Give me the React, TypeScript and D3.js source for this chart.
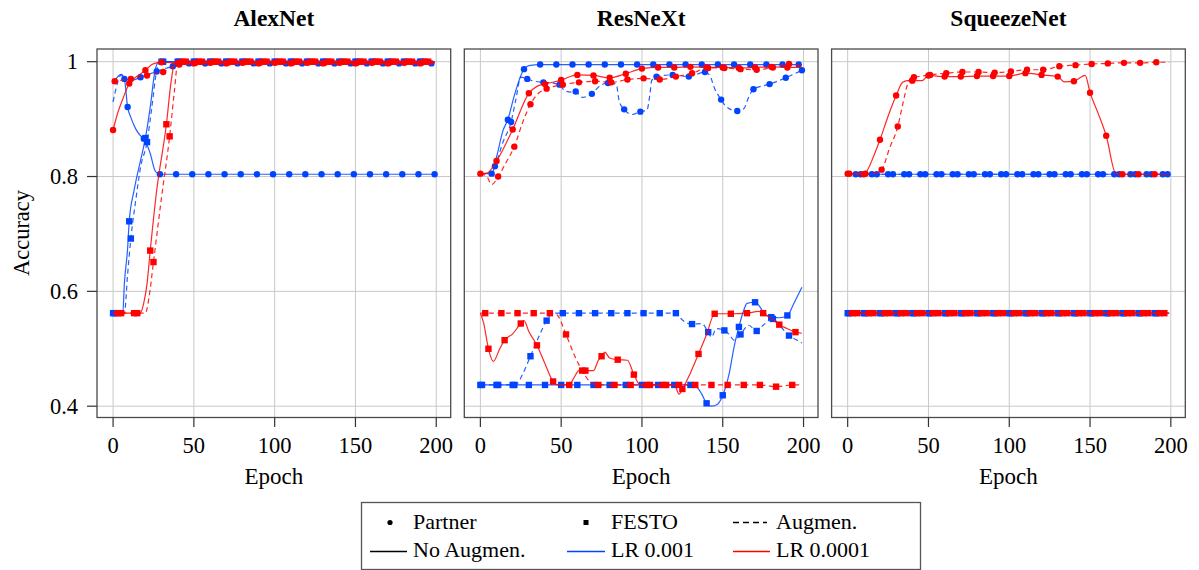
import React from "react";
import * as d3 from "d3";

type Pt = [number, number];

const MODELS = ["AlexNet", "ResNeXt", "SqueezeNet"];
const EPOCH_TICKS = [0, 50, 100, 150, 200];
const ACC_TICKS = [0.4, 0.6, 0.8, 1];
const ACC_TICK_LABELS = ["0.4", "0.6", "0.8", "1"];

// ---- AlexNet ----
const alexPartnerLr3: Pt[] = [[0,0.962],[5,0.978],[7,0.970],[9,0.921],[11,0.903],[14,0.883],[17,0.871],[19,0.866],[23,0.840],[26,0.810],[28,0.805],[29,0.804],[39,0.804],[49,0.804],[59,0.804],[69,0.804],[79,0.804],[89,0.804],[99,0.804],[109,0.804],[119,0.804],[129,0.804],[139,0.804],[149,0.804],[159,0.804],[169,0.804],[179,0.804],[189,0.804],[199,0.804]];
const alexPartnerLr3Aug: Pt[] = [[0,0.930],[2,0.955],[5,0.977],[7,0.970],[12,0.968],[17,0.973],[22,0.978],[27,0.983],[32,0.988],[37,0.992],[42,0.995],[47,0.997],[57,0.997],[67,0.997],[77,0.997],[87,0.997],[97,0.997],[107,0.997],[117,0.997],[127,0.997],[137,0.997],[147,0.997],[157,0.997],[167,0.997],[177,0.997],[187,0.997],[197,0.997],[199,0.997]];
const alexPartnerLr4: Pt[] = [[0,0.881],[3,0.912],[6,0.935],[10,0.962],[15,0.975],[20,0.985],[24,0.995],[27,0.998],[30,0.999],[40,0.998],[50,0.997],[60,0.998],[70,0.997],[80,0.998],[90,0.997],[100,0.998],[110,0.997],[120,0.998],[130,0.997],[140,0.998],[150,0.997],[160,0.998],[170,0.997],[180,0.998],[190,0.997],[199,0.998]];
const alexPartnerLr4Aug: Pt[] = [[0,0.962],[1,0.966],[6,0.968],[11,0.970],[16,0.973],[21,0.976],[26,0.979],[31,0.982],[36,0.990],[41,0.995],[51,0.998],[61,0.999],[71,0.998],[81,0.999],[91,0.998],[101,0.999],[111,0.998],[121,0.999],[131,0.998],[141,0.999],[151,0.998],[161,0.999],[171,0.998],[181,0.999],[191,0.998],[199,0.999]];
const alexFestoLr3: Pt[] = [[0,0.562],[6,0.562],[7,0.614],[9,0.675],[10,0.722],[13,0.776],[17,0.828],[20,0.867],[23,0.921],[26,0.985],[28,0.999],[30,1.0],[40,1.0],[50,1.0],[60,1.0],[70,1.0],[80,1.0],[90,1.0],[100,1.0],[110,1.0],[120,1.0],[130,1.0],[140,1.0],[150,1.0],[160,1.0],[170,1.0],[180,1.0],[190,1.0],[199,1.0]];
const alexFestoLr3Aug: Pt[] = [[0,0.562],[1,0.562],[7,0.562],[9,0.630],[11,0.692],[14,0.758],[17,0.816],[21,0.860],[24,0.921],[27,0.985],[29,1.0],[31,1.0],[41,1.0],[51,1.0],[61,1.0],[71,1.0],[81,1.0],[91,1.0],[101,1.0],[111,1.0],[121,1.0],[131,1.0],[141,1.0],[151,1.0],[161,1.0],[171,1.0],[181,1.0],[191,1.0],[199,1.0]];
const alexFestoLr4: Pt[] = [[0,0.562],[3,0.562],[13,0.562],[17,0.563],[19,0.580],[21,0.613],[23,0.671],[27,0.776],[33,0.891],[36,0.967],[38,0.997],[43,1.0],[53,1.0],[63,1.0],[73,1.0],[83,1.0],[93,1.0],[103,1.0],[113,1.0],[123,1.0],[133,1.0],[143,1.0],[153,1.0],[163,1.0],[173,1.0],[183,1.0],[193,1.0],[199,1.0]];
const alexFestoLr4Aug: Pt[] = [[0,0.562],[5,0.562],[15,0.562],[20,0.562],[22,0.585],[25,0.651],[30,0.764],[35,0.870],[38,0.950],[40,0.998],[45,1.0],[55,1.0],[65,1.0],[75,1.0],[85,1.0],[95,1.0],[105,1.0],[115,1.0],[125,1.0],[135,1.0],[145,1.0],[155,1.0],[165,1.0],[175,1.0],[185,1.0],[195,1.0],[199,1.0]];

// ---- ResNeXt ----
const resPartnerLr3: Pt[] = [[0,0.805],[7,0.805],[10,0.834],[14,0.880],[17,0.899],[21,0.941],[27,0.987],[30,0.993],[37,0.995],[47,0.995],[57,0.995],[67,0.995],[77,0.995],[87,0.995],[97,0.995],[107,0.995],[117,0.995],[127,0.995],[137,0.995],[147,0.995],[157,0.995],[167,0.995],[177,0.995],[187,0.995],[197,0.995],[199,0.995]];
const resPartnerLr3Aug: Pt[] = [[0,0.805],[6,0.805],[9,0.818],[14,0.860],[19,0.895],[22,0.935],[25,0.973],[29,0.970],[32,0.967],[39,0.964],[44,0.963],[49,0.960],[52,0.950],[56,0.947],[59,0.948],[63,0.938],[69,0.944],[74,0.958],[79,0.963],[84,0.961],[86,0.930],[89,0.917],[94,0.908],[99,0.913],[103,0.915],[105,0.945],[106,0.967],[109,0.974],[119,0.977],[129,0.974],[139,0.982],[142,0.976],[145,0.953],[149,0.934],[152,0.922],[159,0.914],[163,0.918],[166,0.938],[169,0.952],[179,0.961],[189,0.972],[199,0.985]];
const resPartnerLr4: Pt[] = [[0,0.805],[4,0.806],[10,0.827],[20,0.882],[30,0.945],[35,0.957],[40,0.961],[50,0.968],[60,0.977],[70,0.976],[80,0.972],[90,0.979],[100,0.988],[110,0.990],[120,0.990],[130,0.991],[140,0.990],[150,0.990],[160,0.989],[170,0.990],[180,0.991],[190,0.990],[199,0.990]];
const resPartnerLr4Aug: Pt[] = [[0,0.805],[4,0.800],[7,0.786],[11,0.800],[16,0.825],[21,0.852],[26,0.893],[31,0.926],[36,0.945],[41,0.953],[51,0.960],[61,0.964],[71,0.966],[81,0.964],[91,0.969],[101,0.971],[111,0.969],[121,0.974],[131,0.980],[141,0.989],[151,0.989],[161,0.987],[171,0.986],[181,0.990],[191,0.996],[199,0.992]];
const resFestoLr3: Pt[] = [[0,0.437],[10,0.437],[20,0.437],[30,0.437],[40,0.437],[50,0.437],[60,0.437],[70,0.437],[80,0.437],[90,0.437],[100,0.437],[110,0.437],[120,0.437],[130,0.437],[134,0.433],[137,0.421],[140,0.405],[143,0.400],[147,0.404],[150,0.419],[154,0.457],[157,0.503],[160,0.538],[163,0.567],[165,0.579],[170,0.581],[173,0.573],[175,0.564],[180,0.555],[185,0.554],[190,0.558],[194,0.579],[199,0.607]];
const resFestoLr3Aug: Pt[] = [[0,0.437],[1,0.437],[11,0.437],[21,0.437],[23,0.440],[26,0.455],[31,0.487],[36,0.520],[41,0.549],[45,0.562],[51,0.562],[61,0.562],[71,0.562],[81,0.562],[91,0.562],[101,0.562],[111,0.562],[121,0.562],[125,0.550],[131,0.543],[137,0.544],[141,0.529],[143,0.520],[146,0.535],[151,0.532],[154,0.525],[157,0.515],[161,0.525],[166,0.541],[171,0.531],[175,0.541],[181,0.552],[186,0.538],[191,0.523],[196,0.515],[199,0.510]];
const resFestoLr4: Pt[] = [[0,0.562],[2,0.545],[5,0.500],[8,0.478],[12,0.500],[15,0.515],[20,0.526],[25,0.544],[27,0.549],[30,0.530],[35,0.506],[40,0.474],[45,0.443],[48,0.437],[55,0.437],[58,0.450],[61,0.462],[65,0.462],[70,0.462],[73,0.480],[75,0.487],[77,0.494],[80,0.484],[85,0.481],[91,0.480],[95,0.455],[99,0.437],[105,0.437],[115,0.437],[120,0.437],[123,0.421],[125,0.430],[130,0.458],[135,0.491],[140,0.525],[145,0.561],[155,0.561],[165,0.562],[172,0.565],[175,0.562],[180,0.553],[185,0.542],[190,0.535],[195,0.529],[199,0.527]];
const resFestoLr4Aug: Pt[] = [[0,0.562],[3,0.562],[13,0.562],[23,0.562],[33,0.562],[43,0.562],[47,0.560],[53,0.525],[58,0.490],[63,0.462],[67,0.445],[71,0.438],[73,0.437],[83,0.437],[93,0.437],[103,0.437],[113,0.437],[123,0.437],[133,0.437],[143,0.437],[153,0.437],[163,0.437],[173,0.437],[183,0.434],[193,0.437],[199,0.437]];

// ---- SqueezeNet ----
const sqzPartnerLr3: Pt[] = [[0,0.804],[8,0.804],[18,0.804],[28,0.804],[38,0.804],[48,0.804],[58,0.804],[68,0.804],[78,0.804],[88,0.804],[98,0.804],[108,0.804],[118,0.804],[128,0.804],[138,0.804],[148,0.804],[158,0.804],[168,0.804],[178,0.804],[188,0.804],[198,0.804],[199,0.804]];
const sqzPartnerLr3Aug: Pt[] = [[0,0.804],[5,0.804],[15,0.804],[25,0.804],[35,0.804],[45,0.804],[55,0.804],[65,0.804],[75,0.804],[85,0.804],[95,0.804],[105,0.804],[115,0.804],[125,0.804],[135,0.804],[145,0.804],[155,0.804],[165,0.804],[175,0.804],[185,0.804],[195,0.804],[199,0.804]];
const sqzPartnerLr4: Pt[] = [[0,0.805],[10,0.804],[12,0.810],[16,0.835],[20,0.864],[25,0.905],[30,0.941],[34,0.964],[37,0.967],[40,0.967],[46,0.967],[50,0.976],[60,0.974],[70,0.974],[80,0.975],[90,0.975],[100,0.975],[110,0.980],[120,0.977],[130,0.974],[134,0.965],[140,0.966],[147,0.976],[150,0.946],[155,0.910],[160,0.871],[166,0.805],[170,0.804],[180,0.804],[190,0.804],[199,0.804]];
const sqzPartnerLr4Aug: Pt[] = [[0,0.805],[1,0.805],[11,0.805],[16,0.805],[21,0.812],[26,0.850],[31,0.887],[34,0.925],[37,0.960],[39,0.972],[41,0.973],[51,0.977],[61,0.980],[71,0.982],[81,0.982],[91,0.981],[101,0.983],[111,0.986],[121,0.986],[131,0.992],[141,0.994],[151,0.996],[161,0.997],[171,0.998],[181,0.998],[191,0.999],[199,0.999]];
const sqzFestoLr3: Pt[] = [[0,0.562],[10,0.562],[20,0.562],[30,0.562],[40,0.562],[50,0.562],[60,0.562],[70,0.562],[80,0.562],[90,0.562],[100,0.562],[110,0.562],[120,0.562],[130,0.562],[140,0.562],[150,0.562],[160,0.562],[170,0.562],[180,0.562],[190,0.562],[199,0.562]];
const sqzFestoLr3Aug: Pt[] = [[0,0.562],[1,0.562],[11,0.562],[21,0.562],[31,0.562],[41,0.562],[51,0.562],[61,0.562],[71,0.562],[81,0.562],[91,0.562],[101,0.562],[111,0.562],[121,0.562],[131,0.562],[141,0.562],[151,0.562],[161,0.562],[171,0.562],[181,0.562],[191,0.562],[199,0.562]];
const sqzFestoLr4: Pt[] = [[0,0.562],[3,0.562],[13,0.562],[23,0.562],[33,0.562],[43,0.562],[53,0.562],[63,0.562],[73,0.562],[83,0.562],[93,0.562],[103,0.562],[113,0.562],[123,0.562],[133,0.562],[143,0.562],[153,0.562],[163,0.562],[173,0.562],[183,0.562],[193,0.562],[199,0.562]];
const sqzFestoLr4Aug: Pt[] = [[0,0.562],[6,0.562],[16,0.562],[26,0.562],[36,0.562],[46,0.562],[56,0.562],[66,0.562],[76,0.562],[86,0.562],[96,0.562],[106,0.562],[116,0.562],[126,0.562],[136,0.562],[146,0.562],[156,0.562],[166,0.562],[176,0.562],[186,0.562],[196,0.562],[199,0.562]];

const BLUE = "#0044ff";
const RED = "#ff0000";

interface Series { data: Pt[]; color: string; dashed: boolean; mark: "circle" | "square"; phase: number; }

// blue drawn first, red on top
const mk = (p3: Pt[], p3a: Pt[], f3: Pt[], f3a: Pt[], p4: Pt[], p4a: Pt[], f4: Pt[], f4a: Pt[], ph: number[]): Series[] => [
  { data: f3, color: BLUE, dashed: false, mark: "square", phase: ph[0] },
  { data: f3a, color: BLUE, dashed: true, mark: "square", phase: ph[1] },
  { data: p3, color: BLUE, dashed: false, mark: "circle", phase: ph[2] },
  { data: p3a, color: BLUE, dashed: true, mark: "circle", phase: ph[3] },
  { data: f4, color: RED, dashed: false, mark: "square", phase: ph[4] },
  { data: f4a, color: RED, dashed: true, mark: "square", phase: ph[5] },
  { data: p4, color: RED, dashed: false, mark: "circle", phase: ph[6] },
  { data: p4a, color: RED, dashed: true, mark: "circle", phase: ph[7] },
];

const PANELS: Series[][] = [
  mk(alexPartnerLr3, alexPartnerLr3Aug, alexFestoLr3, alexFestoLr3Aug, alexPartnerLr4, alexPartnerLr4Aug, alexFestoLr4, alexFestoLr4Aug, [0, 1, 9, 7, 3, 5, 0, 1]),
  mk(resPartnerLr3, resPartnerLr3Aug, resFestoLr3, resFestoLr3Aug, resPartnerLr4, resPartnerLr4Aug, resFestoLr4, resFestoLr4Aug, [0, 1, 7, 9, 5, 3, 0, 1]),
  mk(sqzPartnerLr3, sqzPartnerLr3Aug, sqzFestoLr3, sqzFestoLr3Aug, sqzPartnerLr4, sqzPartnerLr4Aug, sqzFestoLr4, sqzFestoLr4Aug, [0, 1, 8, 5, 3, 6, 0, 1]),
];

const PANEL_LEFT = [97, 464.3, 831.6];
const PANEL_W = 353.7;
const TOP = 49;
const BOTTOM = 417.5;
const FONT = "'Liberation Serif', 'Times New Roman', serif";

const Panel = ({ idx }: { idx: number }) => {
  const left = PANEL_LEFT[idx];
  const x = d3.scaleLinear([-9.95, 208.95], [left, left + PANEL_W]);
  const y = d3.scaleLinear([0.3803, 1.0221], [BOTTOM, TOP]);
  const line = d3.line<Pt>().x(d => x(d[0])).y(d => y(d[1])).curve(d3.curveMonotoneX);
  return (
    <g>
      {EPOCH_TICKS.map(t => (
        <line key={"gx" + t} x1={x(t)} x2={x(t)} y1={TOP} y2={BOTTOM} stroke="#c8c8c8" strokeWidth={1} />
      ))}
      {ACC_TICKS.map(t => (
        <line key={"gy" + t} x1={left} x2={left + PANEL_W} y1={y(t)} y2={y(t)} stroke="#c8c8c8" strokeWidth={1} />
      ))}
      {PANELS[idx].map((s, i) => (
        <g key={i}>
          <path d={line(s.data) || ""} fill="none" stroke={s.color} strokeWidth={1.2} strokeOpacity={0.85}
            strokeDasharray={s.dashed ? "5,3.5" : undefined} />
          {s.data.filter(d => d[0] % 10 === s.phase).map(d =>
            s.mark === "circle"
              ? <circle key={d[0]} cx={x(d[0])} cy={y(d[1])} r={3.2} fill={s.color} />
              : <rect key={d[0]} x={x(d[0]) - 3.2} y={y(d[1]) - 3.2} width={6.4} height={6.4} fill={s.color} />
          )}
        </g>
      ))}
      <rect x={left} y={TOP} width={PANEL_W} height={BOTTOM - TOP} fill="none" stroke="#4a4a4a" strokeWidth={1.3} />
      {EPOCH_TICKS.map(t => (
        <g key={"tx" + t}>
          <line x1={x(t)} x2={x(t)} y1={BOTTOM} y2={BOTTOM + 9.5} stroke="#333" strokeWidth={1.2} />
          <text x={x(t)} y={453} textAnchor="middle" fontSize={22.5}>{t}</text>
        </g>
      ))}
      {idx === 0 && ACC_TICKS.map((t, i) => (
        <g key={"ty" + t}>
          <line x1={left - 10} x2={left} y1={y(t)} y2={y(t)} stroke="#333" strokeWidth={1.2} />
          <text x={left - 19} y={y(t) + 7.5} textAnchor="end" fontSize={22.5}>{ACC_TICK_LABELS[i]}</text>
        </g>
      ))}
      <text x={left + PANEL_W / 2} y={26} textAnchor="middle" fontSize={23.5} fontWeight="bold">{MODELS[idx]}</text>
      <text x={left + PANEL_W / 2} y={484} textAnchor="middle" fontSize={23}>Epoch</text>
    </g>
  );
};

const Legend = () => (
  <g fontSize={22}>
    <rect x={361.5} y={502.5} width={559} height={67} fill="white" stroke="#555" strokeWidth={1.3} />
    <circle cx={390} cy={522.5} r={2.6} fill="black" />
    <text x={413} y={529}>Partner</text>
    <rect x={583.5} y={520} width={5} height={5} fill="black" />
    <text x={611} y={529}>FESTO</text>
    <line x1={733} x2={767} y1={522.5} y2={522.5} stroke="black" strokeWidth={1.6} strokeDasharray="6,4" />
    <text x={776} y={529}>Augmen.</text>
    <line x1={370} x2={407} y1={551.5} y2={551.5} stroke="black" strokeWidth={1.6} />
    <text x={413} y={557}>No Augmen.</text>
    <line x1={567} x2={605} y1={551.5} y2={551.5} stroke={BLUE} strokeWidth={1.6} />
    <text x={611} y={557}>LR 0.001</text>
    <line x1={733} x2={770} y1={551.5} y2={551.5} stroke={RED} strokeWidth={1.6} />
    <text x={776} y={557}>LR 0.0001</text>
  </g>
);

export default function App() {
  return (
    <svg width={1199} height={570} style={{ position: "absolute", left: 0, top: 0, background: "white" }}
      fontFamily={FONT}>
      {MODELS.map((m, i) => <Panel key={m} idx={i} />)}
      <text transform="translate(29,233) rotate(-90)" textAnchor="middle" fontSize={22.5}>Accuracy</text>
      <Legend />
    </svg>
  );
}
